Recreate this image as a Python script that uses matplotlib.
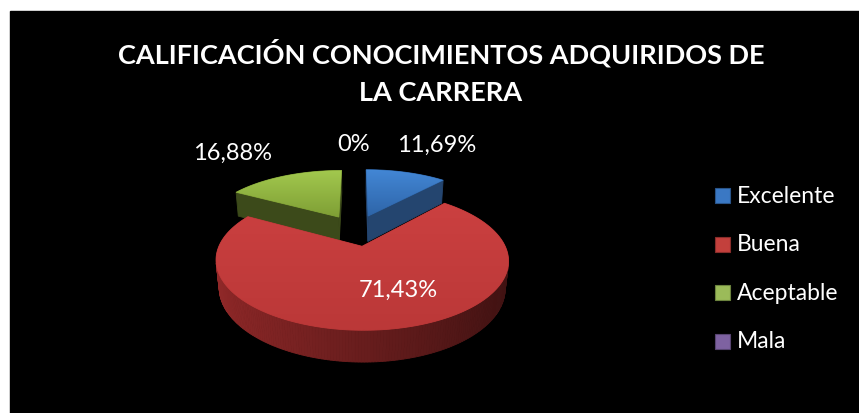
import numpy as np
import matplotlib
matplotlib.use("Agg")
import matplotlib.pyplot as plt
from matplotlib.patches import Polygon, Rectangle
from matplotlib.colors import to_rgb

# datos del grafico
categories = ["Excelente", "Buena", "Aceptable", "Mala"]
values = [11.69, 71.43, 16.88, 0.0]
value_labels = ["11,69%", "71,43%", "16,88%", "0%"]
title = "CALIFICACIÓN CONOCIMIENTOS ADQUIRIDOS DE\nLA CARRERA"

# colores (arriba claro, abajo oscuro, lado)
top_light = ["#4387d6", "#cb4040", "#a2c84e", "#8a6cb0"]
top_dark = ["#2e65a8", "#bb3838", "#7f9f35", "#6a5290"]
side_color = ["#24456f", "#9a2b2b", "#3c4a1a", "#4a3a66"]
legend_colors = ["#3a78c4", "#c3403c", "#9bbb59", "#7e62a1"]

plt.rcParams['font.family'] = ['Lato', 'DejaVu Sans']

fig = plt.figure(figsize=(8.59, 4.14), dpi=100, facecolor="white")
ax = fig.add_axes([0, 0, 1, 1])
ax.set_xlim(0, 859)
ax.set_ylim(414, 0)
ax.axis("off")
ax.add_patch(Rectangle((10, 12), 860, 410, color="black", zorder=0))

# proyeccion 3D simple con perspectiva
cx, cy = 356, 231
sc = 136
phi = np.radians(26.3)
D = 4.6
h = 0.22
expl = 0.26
cam = np.array([0.0, D * np.sin(phi), -D * np.cos(phi)])


def proj(X, Z, Y):
    c, s = np.cos(phi), np.sin(phi)
    yc = Y * c + Z * s
    dc = -Y * s + Z * c
    f = D / (D + dc)
    return cx + sc * X * f, cy - sc * yc * f


def depth(X, Z, Y):
    return np.sqrt((X - cam[0]) ** 2 + (Y - cam[1]) ** 2 + (Z - cam[2]) ** 2)


def shade(col, k):
    r, g, b = to_rgb(col)
    return (r * k, g * k, b * k)


total = sum(values)
angles = np.cumsum([0] + [v / total * 360 for v in values])

slices = []
for i, v in enumerate(values):
    if v <= 0:
        continue
    a0, a1 = np.radians(angles[i]), np.radians(angles[i + 1])
    mid = (a0 + a1) / 2
    ox, oz = expl * np.sin(mid), expl * np.cos(mid)
    slices.append((oz, i, a0, a1, ox, oz))

# las de atras primero
slices.sort(key=lambda t: -t[0])

z = 1
for _, i, a0, a1, ox, oz in slices:
    th = np.linspace(a0, a1, max(int(np.degrees(a1 - a0)), 4))
    faces = []
    # pared exterior
    for t0, t1 in zip(th[:-1], th[1:]):
        tm = (t0 + t1) / 2
        n = np.array([np.sin(tm), 0, np.cos(tm)])
        P = np.array([ox + np.sin(tm), -h / 2, oz + np.cos(tm)])
        if n @ (cam - P) <= 0:
            continue
        pts = [proj(ox + np.sin(t0), oz + np.cos(t0), 0),
               proj(ox + np.sin(t1), oz + np.cos(t1), 0),
               proj(ox + np.sin(t1), oz + np.cos(t1), -h),
               proj(ox + np.sin(t0), oz + np.cos(t0), -h)]
        k = 0.95 - 0.55 * (np.sin(tm) + 1) / 2
        faces.append((depth(*P[[0, 2, 1]]), pts, shade(side_color[i], k)))
    # caras radiales
    for a, n in [(a0, np.array([-np.cos(a0), 0, np.sin(a0)])),
                 (a1, np.array([np.cos(a1), 0, -np.sin(a1)]))]:
        P = np.array([ox + 0.5 * np.sin(a), -h / 2, oz + 0.5 * np.cos(a)])
        if n @ (cam - P) <= 0:
            continue
        pts = [proj(ox, oz, 0), proj(ox + np.sin(a), oz + np.cos(a), 0),
               proj(ox + np.sin(a), oz + np.cos(a), -h), proj(ox, oz, -h)]
        faces.append((depth(P[0], P[2], P[1]), pts, side_color[i]))
    faces.sort(key=lambda t: -t[0])
    for _, pts, col in faces:
        ax.add_patch(Polygon(pts, closed=True, facecolor=col, edgecolor=col,
                             lw=0.6, zorder=z))
    # cara superior con degradado
    top = [proj(ox, oz, 0)] + [proj(ox + np.sin(t), oz + np.cos(t), 0) for t in th]
    top = np.array(top)
    poly = Polygon(top, closed=True, facecolor=top_dark[i], edgecolor=top_dark[i],
                   lw=0.6, zorder=z + 0.5)
    ax.add_patch(poly)
    c1, c2 = np.array(to_rgb(top_light[i])), np.array(to_rgb(top_dark[i]))
    grad = np.linspace(0, 1, 100)[:, None, None] * (c2 - c1) + c1
    grad = np.repeat(grad, 2, axis=1)
    x0, x1 = top[:, 0].min(), top[:, 0].max()
    y0, y1 = top[:, 1].min(), top[:, 1].max()
    im = ax.imshow(grad, extent=(x0, x1, y1, y0), aspect="auto",
                   interpolation="bilinear", zorder=z + 0.6)
    im.set_clip_path(poly)
    z += 1

# etiquetas de datos
label_pos = [(437, 145), (398, 290), (233, 153), (354, 145)]
for lab, (lx, ly) in zip(value_labels, label_pos):
    ax.text(lx, ly, lab, color="white", fontsize=17, ha="center", va="center",
            zorder=20)

# titulo (dos lineas)
for k, line in enumerate(title.split("\n")):
    ax.text(441, 53 + 40 * k, line, color="white", fontsize=19.5,
            fontweight="bold", ha="center", va="center", zorder=20)

# leyenda
for j, (name, col) in enumerate(zip(categories, legend_colors)):
    ly = 196.5 + j * 48.5
    ax.add_patch(Rectangle((715, ly - 7.5), 15, 15, facecolor=col,
                           edgecolor=shade(col, 0.7), lw=0.8, zorder=20))
    ax.text(737, ly, name, color="white", fontsize=16.5, ha="left", va="center",
            zorder=20)

fig.savefig("out.png", dpi=100, facecolor="white")
